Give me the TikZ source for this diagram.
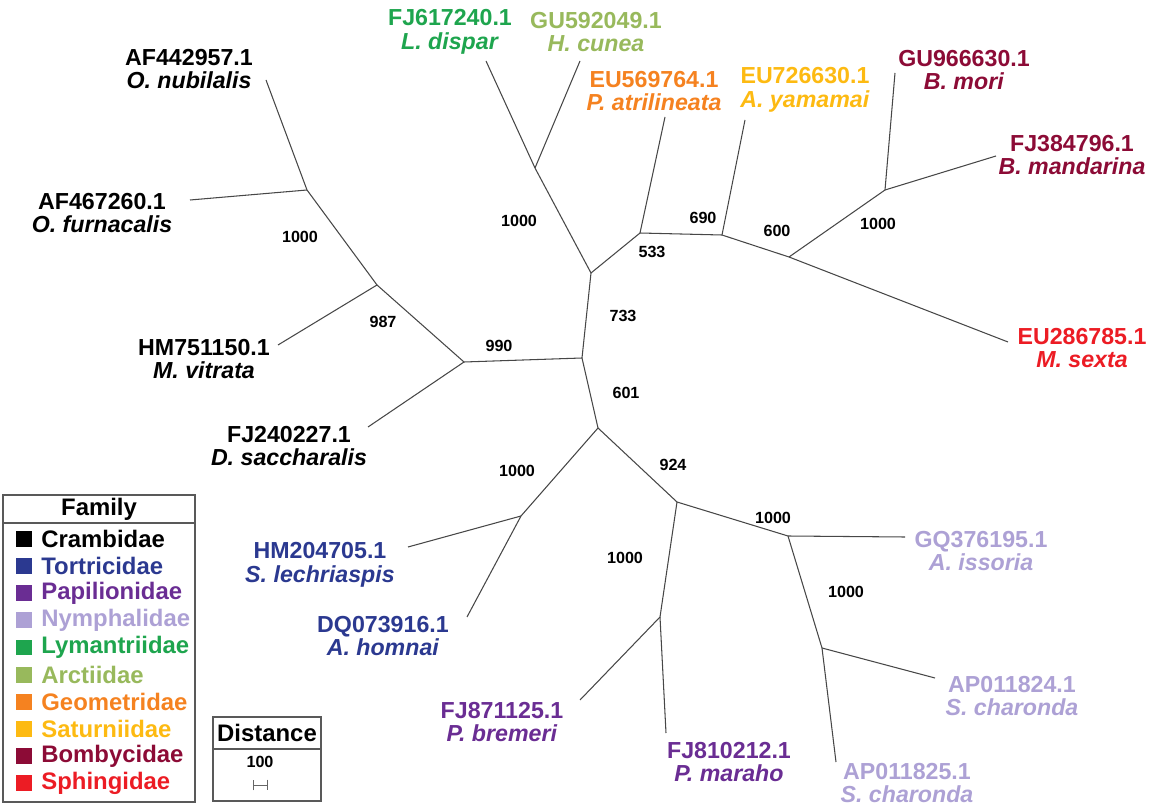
\documentclass[tikz,border=0pt]{standalone}
\usepackage{fontspec}
\setmainfont{Liberation Sans}
\usepackage{tikz}
\usetikzlibrary{arrows.meta,positioning}
\usepackage{xcolor}
\definecolor{fcram}{HTML}{000000}
\definecolor{ftort}{HTML}{2B3990}
\definecolor{fpapi}{HTML}{6A2D93}
\definecolor{fnymp}{HTML}{ADA1D5}
\definecolor{flyma}{HTML}{1EA54E}
\definecolor{farct}{HTML}{98B95C}
\definecolor{fgeom}{HTML}{F58220}
\definecolor{fsatu}{HTML}{FDBA12}
\definecolor{fbomb}{HTML}{8C0B36}
\definecolor{fsphi}{HTML}{EC1C24}

\begin{document}
\begin{tikzpicture}[x=0.02cm, y=-0.02cm,
  branch/.style={draw=black!72, line width=0.6pt},
  boot/.style={inner sep=0pt, font=\fontsize{9.2}{10}\selectfont\bfseries},
  taxon/.style={align=center, inner sep=0pt, font=\fontsize{13.2}{13.6}\selectfont\bfseries},
  keybox/.style={draw=black!65, line width=0.8pt},
  keyhead/.style={inner sep=0pt, font=\fontsize{13.6}{14}\selectfont\bfseries}]
\useasboundingbox (0,0) rectangle (1153,807);
% =================== tree: inner nodes and tips ===================
\coordinate (nA) at (307,190);  \coordinate (nB) at (377,285);
\coordinate (nC) at (464,362);  \coordinate (nD) at (582,358);
\coordinate (nE) at (591,273);  \coordinate (nF) at (535,168);
\coordinate (nG) at (640,233);  \coordinate (nH) at (722,235);
\coordinate (nI) at (789,257);  \coordinate (nJ) at (885,190);
\coordinate (nK) at (598,428);  \coordinate (nL) at (521,516);
\coordinate (nM) at (677,502);  \coordinate (nN) at (660,617);
\coordinate (nO) at (788,536);  \coordinate (nP) at (822,648);
\coordinate (tnub) at (266,80);   \coordinate (tfur) at (190,200);
\coordinate (tvit) at (278,345);  \coordinate (tsac) at (368,427);
\coordinate (tdis) at (486,61);   \coordinate (tcun) at (580,61);
\coordinate (tatr) at (665,117);  \coordinate (tyam) at (745,120);
\coordinate (tmor) at (895,73);   \coordinate (tman) at (996,156);
\coordinate (tsex) at (1008,342); \coordinate (tlec) at (408,547);
\coordinate (thom) at (467,617);  \coordinate (tbre) at (580,700);
\coordinate (tmar) at (666,733);  \coordinate (tiss) at (905,537);
\coordinate (tch1) at (935,678);  \coordinate (tch2) at (836,762);
% branches
\foreach \u/\v in {nA/tnub, nA/tfur, nA/nB, nB/tvit, nB/nC, nC/tsac, nC/nD,
                   nD/nE, nE/nF, nF/tdis, nF/tcun, nE/nG, nG/tatr, nG/nH,
                   nH/tyam, nH/nI, nI/nJ, nJ/tmor, nJ/tman, nI/tsex,
                   nD/nK, nK/nL, nL/tlec, nL/thom, nK/nM, nM/nN, nN/tbre,
                   nN/tmar, nM/nO, nO/tiss, nO/nP, nP/tch1, nP/tch2}
  \draw[branch] (\u) -- (\v);
% bootstrap values
\foreach \px/\py/\b [count=\i] in {300/237/1000, 383/322/987, 499/346/990,
    519/221/1000, 652/252/533, 703/218/690, 777/231/600, 878/224/1000,
    623/316/733, 626/393/601, 673/465/924, 517/471/1000, 625/558/1000,
    773/518/1000, 846/592/1000}
  \node[boot] (bs\i) at (\px,\py) {\b};
% taxon labels
\foreach \px/\py/\nm/\acc/\sp/\col in {
    189/69/nub/AF442957.1/O. nubilalis/fcram,
    102/213/fur/AF467260.1/O. furnacalis/fcram,
    204/359/vit/HM751150.1/M. vitrata/fcram,
    289/446/sac/FJ240227.1/D. saccharalis/fcram,
    450/32/dis/FJ617240.1/L. dispar/flyma,
    596/32/cun/GU592049.1/H. cunea/farct,
    654/91/atr/EU569764.1/P. atrilineata/fgeom,
    805/90/yam/EU726630.1/A. yamamai/fsatu,
    964/70/mor/GU966630.1/B. mori/fbomb,
    1072/155/man/FJ384796.1/B. mandarina/fbomb,
    1082/348/sex/EU286785.1/M. sexta/fsphi,
    320/565/lec/HM204705.1/S. lechriaspis/ftort,
    383/636/hom/DQ073916.1/A. homnai/ftort,
    502/722/bre/FJ871125.1/P. bremeri/fpapi,
    729/762/mar/FJ810212.1/P. maraho/fpapi,
    981/551/iss/GQ376195.1/A. issoria/fnymp,
    1012/696/ch1/AP011824.1/S. charonda/fnymp,
    907/783/ch2/AP011825.1/S. charonda/fnymp}
  \node[taxon, text=\col] (lb\nm) at (\px,\py) {\acc\\\textit{\sp}};
% =================== legend: family ===================
\draw[keybox] (3,495) rectangle (195,802);
\draw[keybox] (3,523) -- (195,523);
\node[keyhead] (famhead) at (99,509) {Family};
\foreach \fam/\col [count=\k] in {Crambidae/fcram, Tortricidae/ftort,
    Papilionidae/fpapi, Nymphalidae/fnymp, Lymantriidae/flyma,
    Arctiidae/farct, Geometridae/fgeom, Saturniidae/fsatu,
    Bombycidae/fbomb, Sphingidae/fsphi}{
  \node[fill=\col, inner sep=0pt, minimum size=9pt] (sq\k) at (24,{512+27.1*\k}) {};
  \node[keyhead, text=\col, right=5pt of sq\k] (fam\k) {\fam};
}
% =================== legend: distance ===================
\draw[keybox] (213,717) rectangle (321,801);
\draw[keybox] (213,749) -- (321,749);
\node[keyhead] (disthead) at (267,733) {Distance};
\node[boot] (distval) at (260,762) {100};
\coordinate (sbl) at (253,785);
\coordinate (sbr) at (268,785);
\draw[black!60, line width=0.5pt, {Bar[width=6pt]}-{Bar[width=6pt]}] (sbl) -- (sbr);
\end{tikzpicture}
\end{document}
